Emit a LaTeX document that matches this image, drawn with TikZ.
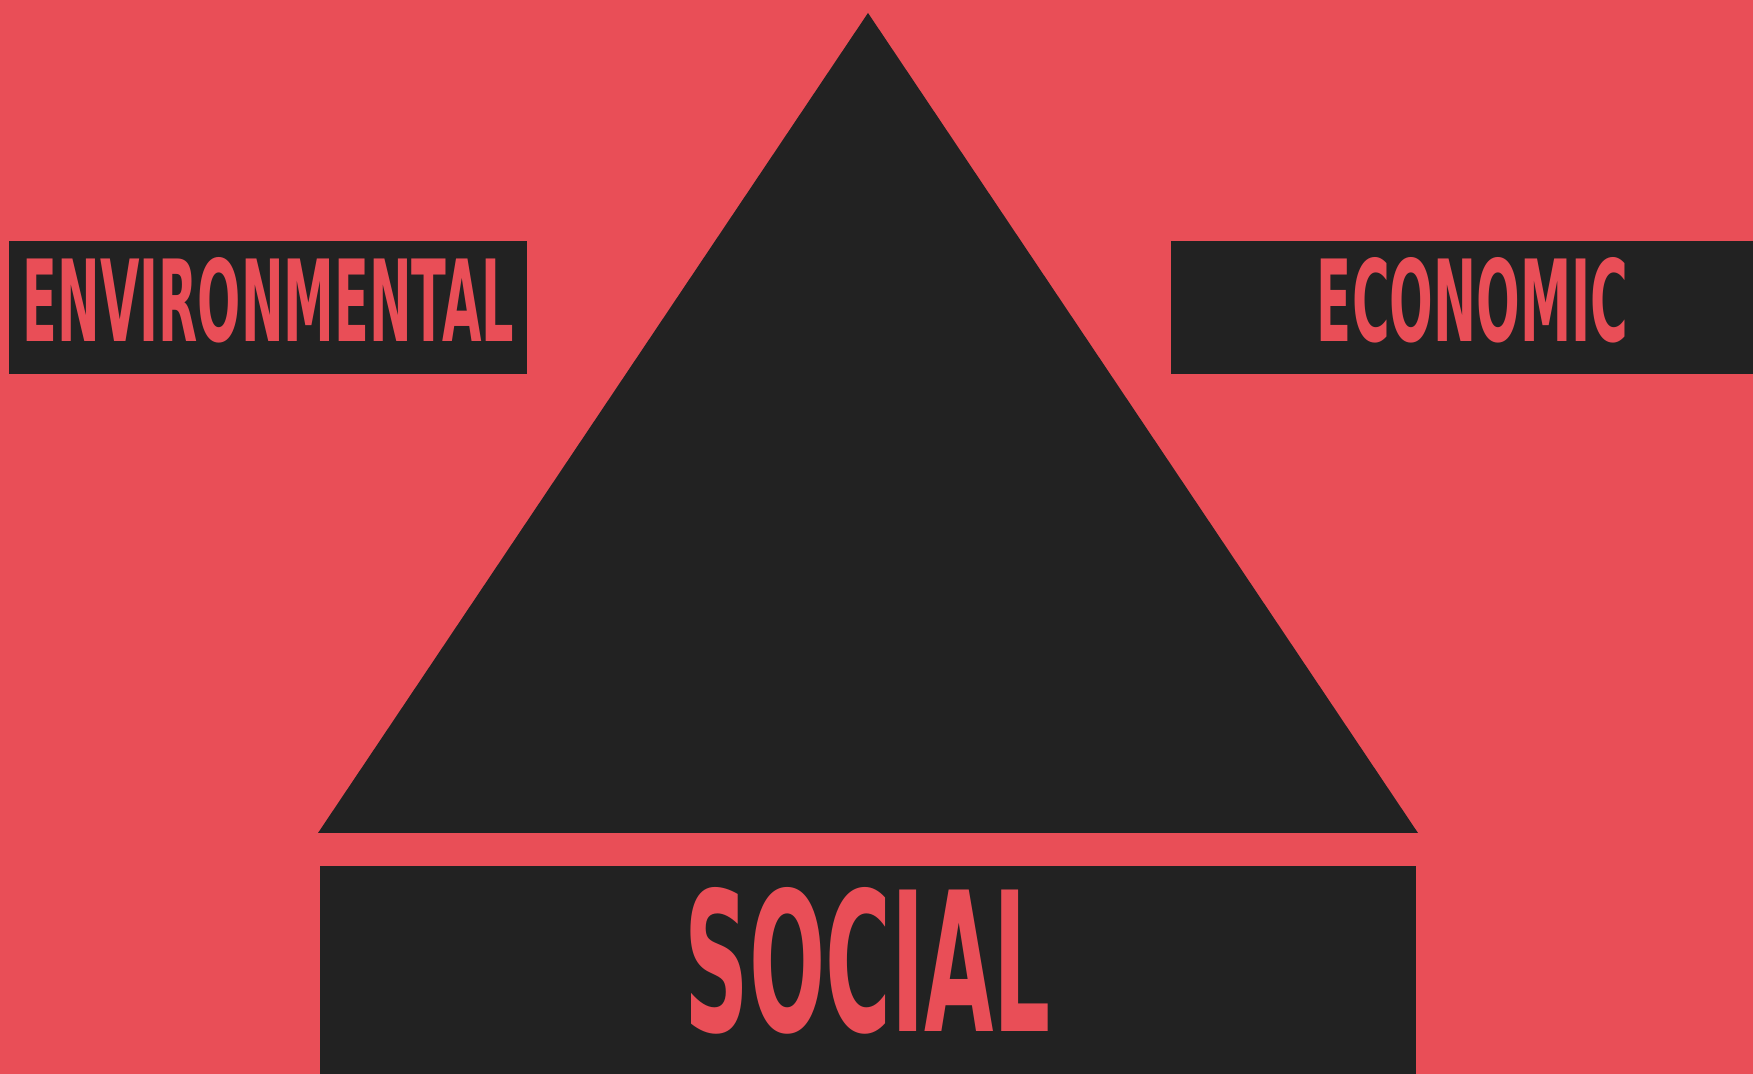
\documentclass[tikz,border=0pt]{standalone}
\usepackage{fontspec}
\setmainfont{DejaVu Sans Condensed}
\usetikzlibrary{positioning}

\definecolor{pillarred}{HTML}{E94E57}
\definecolor{pillardark}{HTML}{222222}

\begin{document}
\begin{tikzpicture}[x=0.01cm, y=-0.01cm,
	labelbox/.style={fill=pillardark, inner sep=0pt},
	labeltext/.style={text=pillarred, inner sep=0pt, font=\bfseries}]
	
	% Background
	\fill[pillarred] (0,0) rectangle (1753,1074);
	\useasboundingbox (0,0) rectangle (1753,1074);
	
	% Triangle
	\coordinate (apex) at (868,13);
	\coordinate (baseL) at (318,833);
	\coordinate (baseR) at (1418,833);
	\fill[pillardark] (apex) -- (baseL) -- (baseR) -- cycle;
	
	% Boxes
	\node [labelbox, minimum width=5.18cm, minimum height=1.32cm] (envbox) at (267.8,307.5) {};
	\node [labelbox, minimum width=5.82cm, minimum height=1.32cm] (ecobox) at (1462.4,307.5) {};
	\node [labelbox, minimum width=10.95cm, minimum height=2.08cm] (socbox) at (868.2,970.3) {};
	
	% Labels
	\node [labeltext] (env) at (268.5,300) {\resizebox{4.91cm}{0.84cm}{ENVIRONMENTAL}};
	\node [labeltext] (eco) at (1472.5,300) {\resizebox{3.11cm}{0.84cm}{ECONOMIC}};
	\node [labeltext] (soc) at (868,960.5) {\resizebox{3.66cm}{1.44cm}{SOCIAL}};
\end{tikzpicture}
\end{document}
